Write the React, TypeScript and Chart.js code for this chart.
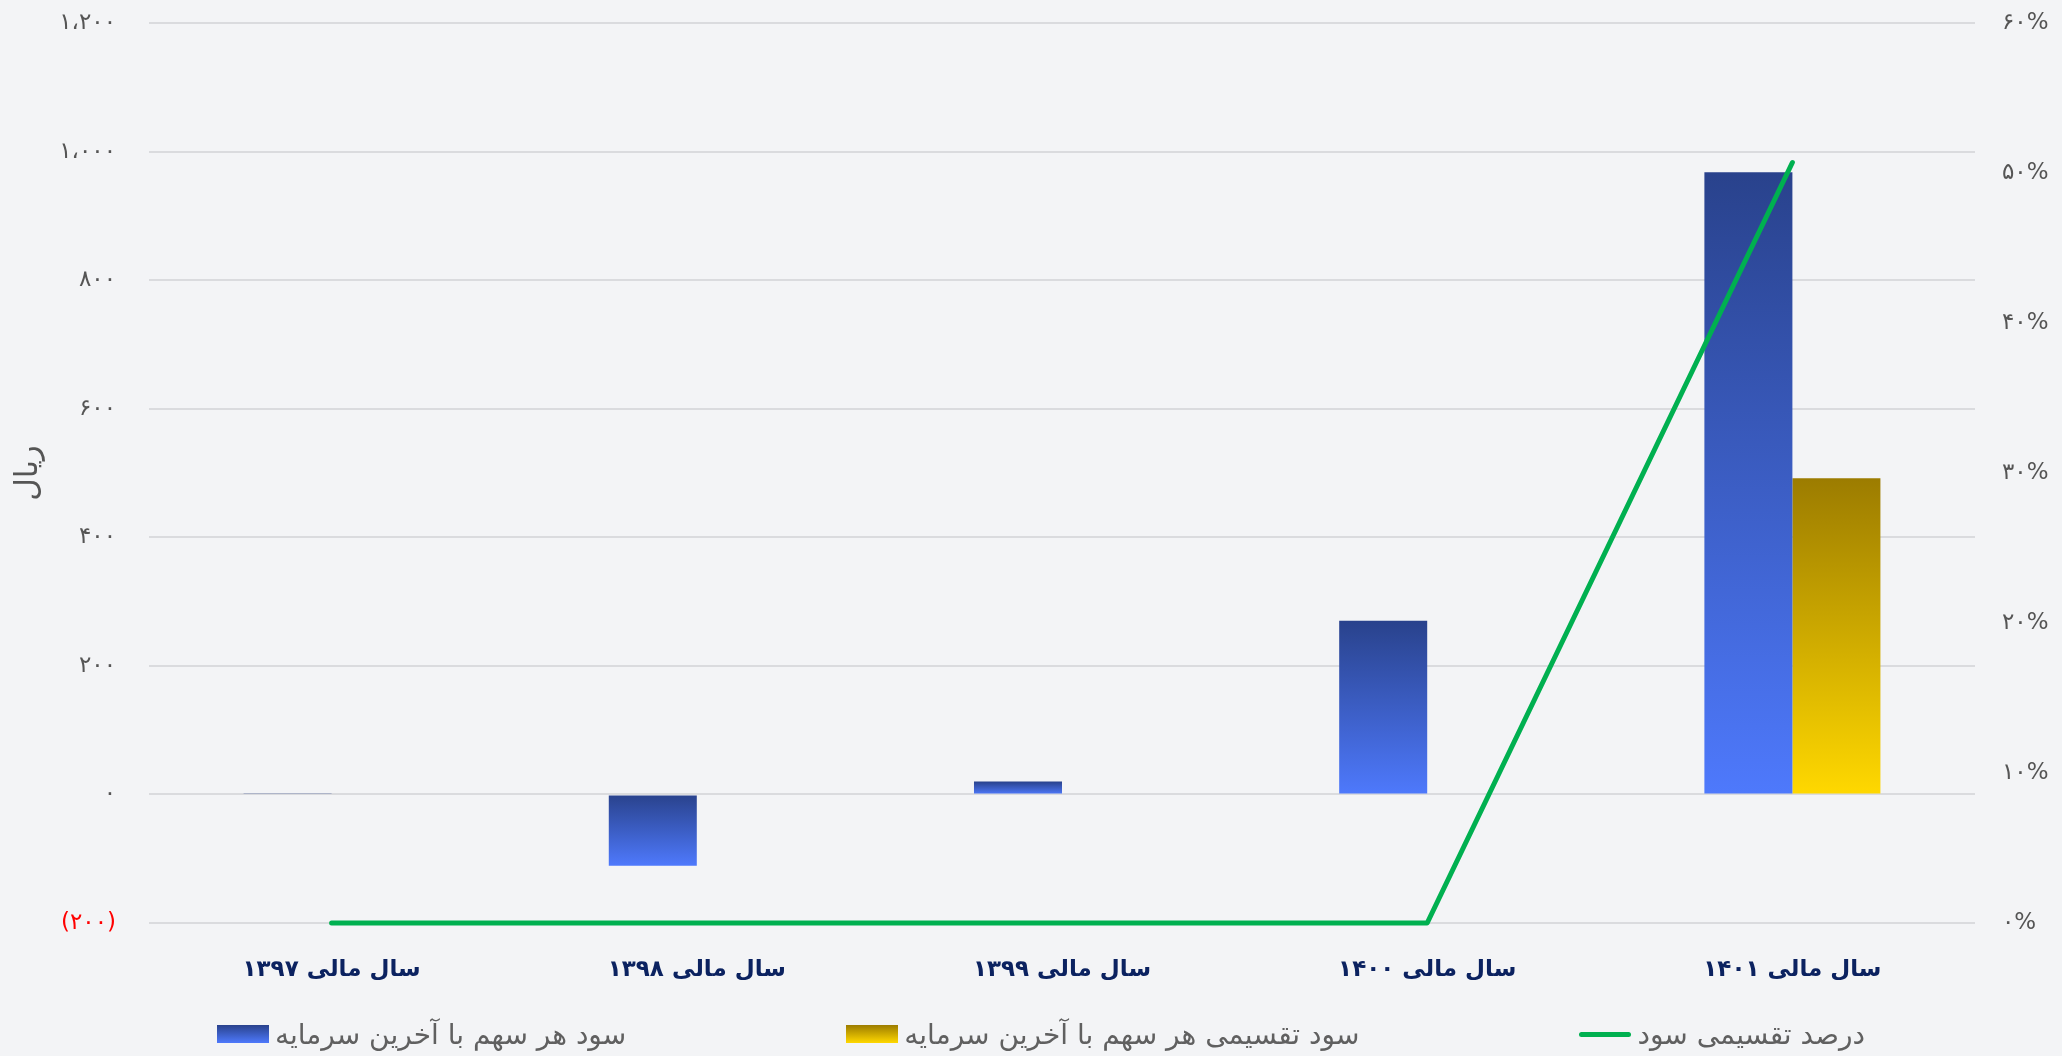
import React, { useEffect, useRef } from "react";
import { Chart, registerables } from "chart.js";

Chart.register(...registerables);

const categories = ["سال مالی ۱۳۹۷", "سال مالی ۱۳۹۸", "سال مالی ۱۳۹۹", "سال مالی ۱۴۰۰", "سال مالی ۱۴۰۱"];
const epsValues = [1, -111, 20, 270, 968];
const dpsValues = [0, 0, 0, 0, 492];
const payoutPct = [0, 0, 0, 0, 50.7];
const seriesNames = ["سود هر سهم با آخرین سرمایه", "سود تقسیمی هر سهم با آخرین سرمایه", "درصد تقسیمی سود"];
const yAxisTitle = "ریال";

const FONT = "'DejaVu Sans', sans-serif";
const BG = "#F3F4F6";

const toFa = (s: string) => s.replace(/\d/g, (d) => "۰۱۲۳۴۵۶۷۸۹"[Number(d)]);
const fmtLeft = (v: number) => {
  const abs = Math.abs(v);
  const s = toFa(abs.toString().replace(/\B(?=(\d{3})+(?!\d))/g, "،"));
  return v < 0 ? `(${s})` : s;
};

function barGradient(top: string, bottom: string) {
  return (ctx: any) => {
    const chart = ctx.chart;
    const scales = chart.scales;
    if (!chart.chartArea || !scales || !scales.y) return bottom;
    const v = ctx.raw as number;
    const y0 = scales.y.getPixelForValue(0);
    const y1 = scales.y.getPixelForValue(v);
    let t = Math.min(y0, y1);
    let b = Math.max(y0, y1);
    if (b - t < 1) b = t + 1;
    const g = chart.ctx.createLinearGradient(0, t, 0, b);
    g.addColorStop(0, top);
    g.addColorStop(1, bottom);
    return g;
  };
}

export default function App() {
  const ref = useRef<HTMLCanvasElement | null>(null);

  useEffect(() => {
    if (!ref.current) return;
    const chart = new Chart(ref.current, {
      type: "bar",
      data: {
        labels: categories,
        datasets: [
          {
            type: "line",
            label: seriesNames[2],
            data: payoutPct,
            yAxisID: "y1",
            borderColor: "#00B050",
            borderWidth: 5,
            borderCapStyle: "round",
            borderJoinStyle: "round",
            pointRadius: 0,
            tension: 0,
            clip: 10,
            order: 0,
          } as any,
          {
            type: "bar",
            label: seriesNames[0],
            data: epsValues,
            yAxisID: "y",
            backgroundColor: barGradient("#29428C", "#4E79FC"),
            borderWidth: 0,
            categoryPercentage: 0.482,
            barPercentage: 1,
            order: 1,
          },
          {
            type: "bar",
            label: seriesNames[1],
            data: dpsValues,
            yAxisID: "y",
            backgroundColor: barGradient("#9C7C00", "#FFD800"),
            borderWidth: 0,
            categoryPercentage: 0.482,
            barPercentage: 1,
            order: 1,
          },
        ],
      },
      options: {
        animation: false,
        responsive: false,
        devicePixelRatio: 1,
        layout: { padding: { top: 23, bottom: 0, left: 0, right: 0 } },
        plugins: {
          legend: { display: false },
          tooltip: { enabled: false },
        },
        scales: {
          x: {
            grid: { display: false, drawTicks: false },
            border: { display: false },
            ticks: {
              color: "#0B2260",
              font: { family: FONT, size: 23, weight: "bold" },
              padding: 33,
              maxRotation: 0,
              autoSkip: false,
            },
            afterFit: (s: any) => {
              s.height = 133;
            },
          },
          y: {
            position: "left",
            min: -200,
            max: 1200,
            grid: { color: "#DADBDE", lineWidth: 2, drawTicks: true, tickLength: 30, tickColor: "rgba(0,0,0,0)" },
            border: { display: false },
            ticks: {
              stepSize: 200,
              padding: 3,
              color: (c: any) => (c.tick && c.tick.value < 0 ? "#FF0000" : "#555555"),
              font: { family: FONT, size: 23 },
              callback: (v: any) => fmtLeft(Number(v)),
            },
            title: {
              display: true,
              text: yAxisTitle,
              color: "#555555",
              font: { family: FONT, size: 31 },
              padding: { top: 10, bottom: 0 },
            },
            afterFit: (s: any) => {
              s.width = 149;
            },
          },
          y1: {
            position: "right",
            min: 0,
            max: 60,
            grid: { display: true, drawOnChartArea: false, drawTicks: true, tickLength: 24, tickColor: "rgba(0,0,0,0)" },
            border: { display: false },
            ticks: {
              stepSize: 10,
              padding: 3,
              color: "#555555",
              font: { family: FONT, size: 23 },
              callback: (v: any) => toFa(String(v)) + "%",
            },
            afterFit: (s: any) => {
              s.width = 87;
            },
          },
        },
      },
    });
    return () => chart.destroy();
  }, []);

  const legendItem = (mark: React.ReactNode, text: string) => (
    <div style={{ display: "flex", alignItems: "center", gap: 6 }}>
      {mark}
      <span style={{ fontFamily: FONT, fontSize: 28, color: "#606060", whiteSpace: "nowrap" }}>{text}</span>
    </div>
  );

  return (
    <div style={{ position: "fixed", left: 0, top: 0, width: 2062, height: 1056, background: BG, overflow: "hidden" }}>
      <canvas ref={ref} width={2062} height={1056} style={{ position: "absolute", left: 0, top: 0, width: 2062, height: 1056 }} />
      <div
        style={{
          position: "absolute",
          left: 10,
          width: 2062,
          top: 1014,
          height: 40,
          display: "flex",
          justifyContent: "center",
          alignItems: "center",
          gap: 220,
        }}
      >
        {legendItem(
          <div style={{ width: 52, height: 18, background: "linear-gradient(#29428C, #4E79FC)" }} />,
          seriesNames[0]
        )}
        {legendItem(
          <div style={{ width: 52, height: 18, background: "linear-gradient(#9C7C00, #FFD800)" }} />,
          seriesNames[1]
        )}
        {legendItem(
          <div style={{ width: 52, height: 5, borderRadius: 3, background: "#00B050" }} />,
          seriesNames[2]
        )}
      </div>
    </div>
  );
}
